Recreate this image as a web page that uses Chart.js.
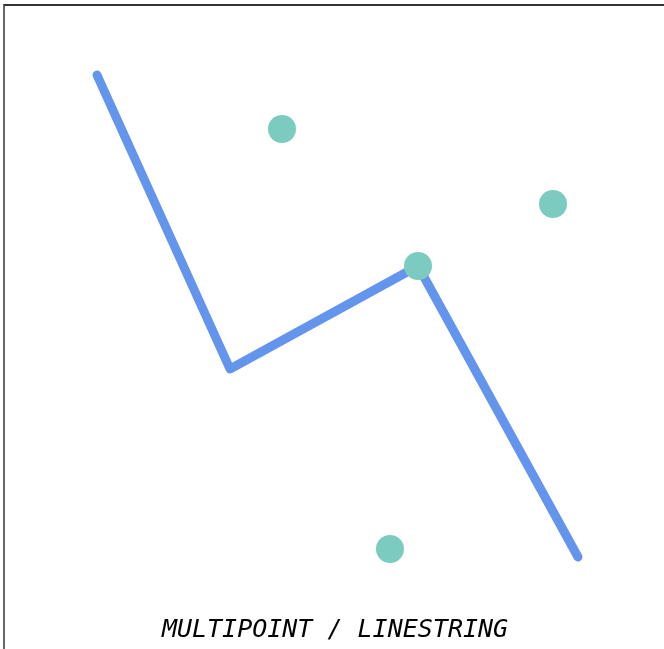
<!DOCTYPE html>
<html>
<head>
<meta charset="utf-8">
<script src="https://cdn.jsdelivr.net/npm/chart.js@4/dist/chart.umd.min.js"></script>
<style>
  html, body { margin: 0; padding: 0; background: #fff; overflow: hidden; }
  #wrap { position: relative; width: 664px; height: 649px; }
  #frame { position: absolute; left: 3px; top: 4px; width: 700px; height: 700px;
           border-left: 2px solid #666; border-top: 2px solid #333; box-sizing: border-box; }
  canvas { position: absolute; left: 0; top: 0; }
  #caption { position: absolute; left: 0; width: 670px; top: 616px; text-align: center;
             font-family: "DejaVu Sans Mono", monospace; font-style: italic; font-size: 25px;
             line-height: 25px; color: #000; white-space: pre; }
</style>
</head>
<body>
<div id="wrap">
  <div id="frame"></div>
  <canvas id="c" width="664" height="649"></canvas>
  <div id="caption">MULTIPOINT / LINESTRING</div>
</div>
<script>
// LINESTRING vertices (x, y in plot units; y grows downward)
const lineX = [97, 230, 418, 578];
const lineY = [75, 369, 266, 557];
// MULTIPOINT members
const pointX = [282, 553, 418, 390];
const pointY = [129, 204, 266, 549];

const lineData = lineX.map((x, i) => ({ x: x, y: lineY[i] }));
const pointData = pointX.map((x, i) => ({ x: x, y: pointY[i] }));

new Chart(document.getElementById('c'), {
  type: 'scatter',
  data: {
    datasets: [
      {
        label: 'MULTIPOINT',
        data: pointData,
        order: 0,
        pointRadius: 14,
        pointHoverRadius: 14,
        pointBackgroundColor: '#7ccbc0',
        pointBorderWidth: 0,
        showLine: false
      },
      {
        label: 'LINESTRING',
        type: 'line',
        data: lineData,
        order: 1,
        showLine: true,
        fill: false,
        borderColor: '#6495ed',
        borderWidth: 9,
        borderCapStyle: 'round',
        borderJoinStyle: 'round',
        pointRadius: 0,
        tension: 0
      }
    ]
  },
  options: {
    responsive: false,
    animation: false,
    layout: { padding: 0, autoPadding: false },
    plugins: { legend: { display: false }, tooltip: { enabled: false }, title: { display: false } },
    scales: {
      x: { type: 'linear', display: false, min: 0, max: 664 },
      y: { type: 'linear', display: false, min: 0, max: 649, reverse: true }
    }
  }
});
</script>
</body>
</html>
